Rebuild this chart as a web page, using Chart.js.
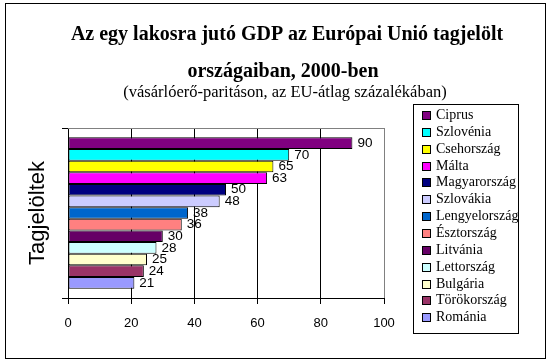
<!DOCTYPE html>
<html>
<head>
<meta charset="utf-8">
<script src="https://cdn.jsdelivr.net/npm/chart.js@4"></script>
<style>
  html, body { margin: 0; padding: 0; background: #fff; }
  #wrap { position: relative; width: 552px; height: 364px; }
  #chart { position: absolute; left: 0; top: 0; }
  #legend {
    position: absolute; left: 413px; top: 104px; width: 104px; height: 226px;
    border: 1px solid #000; box-sizing: content-box;
    font-family: "Liberation Serif", "Times New Roman", serif; font-size: 14px;
    padding-top: 2px; margin: 0;
  }
  #legend div { height: 16.86px; line-height: 16.86px; white-space: nowrap; position: relative; }
  #legend span.sw {
    position: absolute; left: 8px; top: 4px; width: 7px; height: 7px;
    border: 1px solid #000;
  }
  #legend span.tx { position: absolute; left: 22px; top: 0; }
</style>
</head>
<body>
<div id="wrap">
  <canvas id="chart" width="552" height="364"></canvas>
  <div id="legend"></div>
</div>
<script>
const countries = ['Ciprus', 'Szlovénia', 'Csehország', 'Málta', 'Magyarország', 'Szlovákia',
  'Lengyelország', 'Észtország', 'Litvánia', 'Lettország', 'Bulgária', 'Törökország', 'Románia'];
const values = [90, 70, 65, 63, 50, 48, 38, 36, 30, 28, 25, 24, 21];
const colors = ['#800080', '#00FFFF', '#FFFF00', '#FF00FF', '#000080', '#CCCCFF',
  '#0066CC', '#FF8080', '#660066', '#CCFFFF', '#FFFFCC', '#993366', '#9999FF'];
const titleLines = ['Az egy lakosra jutó GDP az Európai Unió tagjelölt', 'országaiban, 2000-ben'];
const subtitle = '(vásárlóerő-paritáson, az EU-átlag százalékában)';
const axisTitle = 'Tagjelöltek';

// legend
const legend = document.getElementById('legend');
countries.forEach(function(c, i) {
  const row = document.createElement('div');
  row.innerHTML = '<span class="sw" style="background:' + colors[i] + '"></span><span class="tx">' + c + '</span>';
  legend.appendChild(row);
});

const datasets = countries.map(function(c, i) {
  return {
    label: c,
    data: [values[i]],
    backgroundColor: colors[i],
    borderColor: '#000',
    borderWidth: 1,
    borderSkipped: false,
    categoryPercentage: 0.89,
    barPercentage: 1
  };
});

const decor = {
  id: 'decor',
  beforeDatasetsDraw(chart) {
    const ctx = chart.ctx;
    const a = chart.chartArea;
    ctx.save();
    // grey top edge of plot
    ctx.strokeStyle = '#808080';
    ctx.lineWidth = 1;
    ctx.beginPath();
    ctx.moveTo(a.left, Math.round(a.top) + 0.5);
    ctx.lineTo(a.right, Math.round(a.top) + 0.5);
    ctx.stroke();
    ctx.restore();
  },
  afterDraw(chart) {
    const ctx = chart.ctx;
    ctx.save();
    // outer frame
    ctx.strokeStyle = '#000';
    ctx.lineWidth = 1;
    ctx.strokeRect(5.5, 3.5, 540, 355);
    // titles
    ctx.fillStyle = '#000';
    ctx.textAlign = 'center';
    ctx.textBaseline = 'alphabetic';
    ctx.font = 'bold 20px "Liberation Serif", "Times New Roman", serif';
    ctx.fillText(titleLines[0], 287, 40);
    ctx.fillText(titleLines[1], 283, 77);
    ctx.font = '16.5px "Liberation Serif", "Times New Roman", serif';
    ctx.fillText(subtitle, 285, 97);
    // value labels
    ctx.font = '13.5px "Liberation Sans", Arial, sans-serif';
    ctx.textAlign = 'left';
    ctx.textBaseline = 'middle';
    chart.data.datasets.forEach(function(ds, i) {
      const bar = chart.getDatasetMeta(i).data[0];
      ctx.fillText(String(ds.data[0]), bar.x + 5, bar.y);
    });
    ctx.restore();
  }
};

new Chart(document.getElementById('chart'), {
  type: 'bar',
  data: { labels: [''], datasets: datasets },
  options: {
    indexAxis: 'y',
    responsive: false,
    animation: false,
    layout: { padding: { left: 0, right: 168, top: 128, bottom: 20.4 } },
    plugins: { legend: { display: false }, tooltip: { enabled: false }, title: { display: false } },
    scales: {
      x: {
        min: 0, max: 100,
        ticks: {
          stepSize: 20, color: '#000', padding: 12,
          font: { family: '"Liberation Sans", Arial, sans-serif', size: 13 }
        },
        grid: {
          color: function(c) { return c.tick && c.tick.value === 100 ? '#808080' : '#000000'; },
          tickColor: '#000000', tickLength: 6, lineWidth: 1
        },
        border: { color: '#000', width: 1 }
      },
      y: {
        ticks: { display: false },
        grid: { drawOnChartArea: false, color: '#000', tickLength: 6 },
        border: { color: '#000', width: 1 },
        title: {
          display: true, text: axisTitle, color: '#000',
          font: { family: '"Liberation Sans", Arial, sans-serif', size: 22 },
          padding: { top: 24.8, bottom: 10.8 }
        }
      }
    }
  },
  plugins: [decor]
});
</script>
</body>
</html>
